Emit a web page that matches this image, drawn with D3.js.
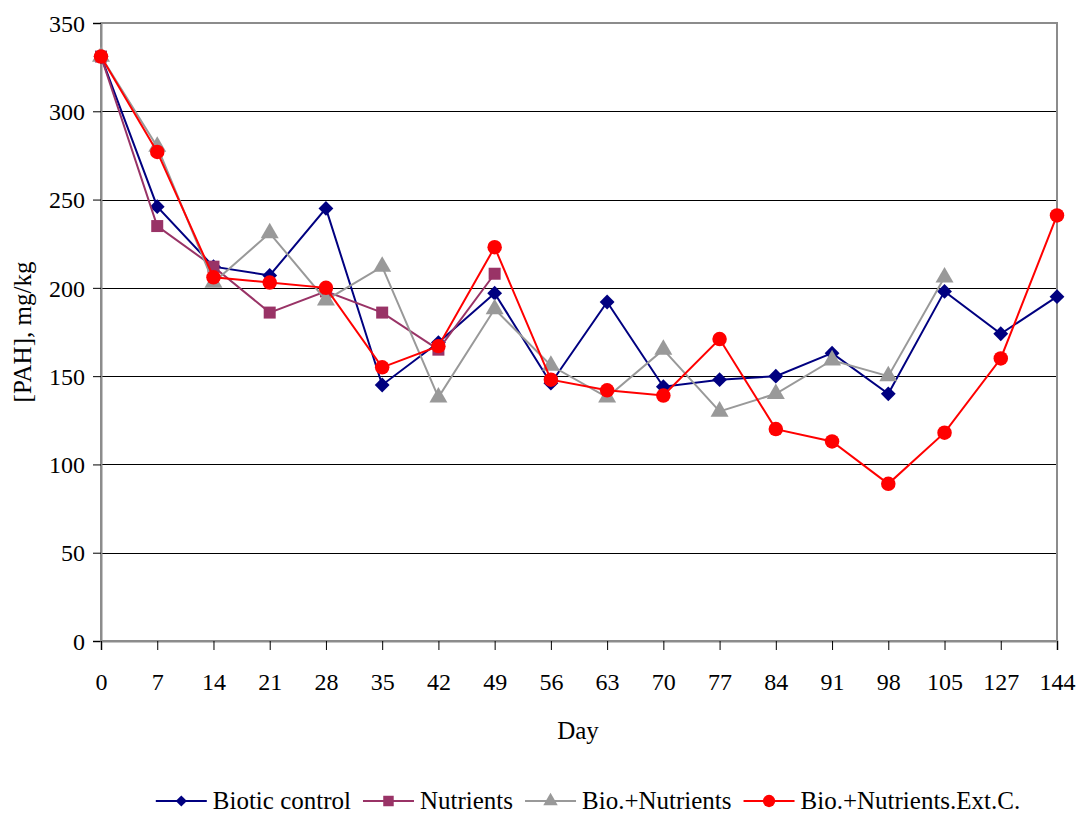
<!DOCTYPE html>
<html>
<head>
<meta charset="utf-8">
<script src="https://cdn.jsdelivr.net/npm/d3@7"></script>
<style>
  html, body { margin: 0; padding: 0; background: #fff; }
  svg text { font-family: "Liberation Serif", "Times New Roman", serif; fill: #000; }
</style>
</head>
<body>
<svg id="chart" width="1076" height="813"></svg>
<script>
// Sampling days (categorical axis)
const days = ["0", "7", "14", "21", "28", "35", "42", "49", "56", "63", "70", "77", "84", "91", "98", "105", "127", "144"];

// PAH concentration, mg/kg, per treatment
const bioticControl = [331, 246, 212, 207, 245, 145, 169, 197, 146, 192, 144, 148, 150, 163, 140, 198, 174, 195];
const nutrients     = [331, 235, 212, 186, 198, 186, 165, 208];
const bioNutrients  = [331, 280, 203, 231, 193, 212, 138, 188, 156, 138, 165, 130, 140, 159, 150, 206];
const bioNutExtC    = [331, 277, 206, 203, 200, 155, 167, 223, 148, 142, 139, 171, 120, 113, 89, 118, 160, 241];

const yTicks = [0, 50, 100, 150, 200, 250, 300, 350];

const seriesNames = ["Biotic control", "Nutrients", "Bio.+Nutrients", "Bio.+Nutrients.Ext.C."];
const seriesValues = [bioticControl, nutrients, bioNutrients, bioNutExtC];
const seriesColors = ["#000080", "#993366", "#999999", "#ff0000"];
const seriesSymbols = [d3.symbolDiamond2, d3.symbolSquare, d3.symbolTriangle, d3.symbolCircle];
const symbolSizes = [140, 144, 140, 165];
const legendSymbolSizes = [80, 110, 90, 120];

const svg = d3.select("#chart");
const plot = { left: 101, right: 1057, top: 23, bottom: 641 };

const x = d3.scalePoint().domain(days).range([plot.left, plot.right]);
const y = d3.scaleLinear().domain([0, 350]).range([plot.bottom, plot.top]);

// Horizontal gridlines
svg.append("g")
  .selectAll("line")
  .data(yTicks.filter(t => t > 0 && t < 350))
  .join("line")
  .attr("x1", plot.left).attr("x2", plot.right)
  .attr("y1", d => Math.round(y(d)) + 0.5).attr("y2", d => Math.round(y(d)) + 0.5)
  .attr("stroke", "#000").attr("stroke-width", 1.2);

// Plot frame
svg.append("rect")
  .attr("x", plot.left).attr("y", plot.top)
  .attr("width", plot.right - plot.left).attr("height", plot.bottom - plot.top)
  .attr("fill", "none").attr("stroke", "#8c8c8c").attr("stroke-width", 2);

// Y axis
const yAxis = svg.append("g")
  .attr("transform", `translate(${plot.left},0)`)
  .call(d3.axisLeft(y).tickValues(yTicks).tickSize(8).tickPadding(8).tickFormat(d3.format("d")));
yAxis.select(".domain").attr("stroke", "#8c8c8c").attr("stroke-width", 2);
yAxis.selectAll(".tick line").attr("stroke", "#000");
yAxis.selectAll("text").attr("font-size", 24).attr("dy", "0.34em");

// X axis
const xAxis = svg.append("g")
  .attr("transform", `translate(0,${plot.bottom})`)
  .call(d3.axisBottom(x).tickSize(9).tickPadding(23));
xAxis.select(".domain").attr("stroke", "#8c8c8c").attr("stroke-width", 2);
xAxis.selectAll(".tick line").attr("stroke", "#000");
xAxis.selectAll("text").attr("font-size", 24);

// Axis titles
svg.append("text")
  .attr("x", (plot.left + plot.right) / 2 - 1).attr("y", 739)
  .attr("text-anchor", "middle").attr("font-size", 25)
  .text("Day");

svg.append("text")
  .attr("transform", `translate(31,${(plot.top + plot.bottom) / 2}) rotate(-90)`)
  .attr("text-anchor", "middle").attr("font-size", 25)
  .text("[PAH], mg/kg");

// Series lines and markers
const line = d3.line()
  .x((d, i) => x(days[i]))
  .y(d => y(d));

seriesValues.forEach((vals, s) => {
  const g = svg.append("g");
  g.append("path")
    .datum(vals)
    .attr("d", line)
    .attr("fill", "none")
    .attr("stroke", seriesColors[s])
    .attr("stroke-width", 2);
  g.selectAll("path.marker")
    .data(vals)
    .join("path")
    .attr("class", "marker")
    .attr("transform", (d, i) => `translate(${x(days[i])},${y(d)})`)
    .attr("d", d3.symbol(seriesSymbols[s], symbolSizes[s]))
    .attr("fill", seriesColors[s]);
});

// Legend
const legend = svg.append("g");
const lineLen = 51, textGap = 6, itemGap = 12, legendY = 801;
const items = seriesNames.map((name, s) => {
  const g = legend.append("g");
  g.append("line")
    .attr("x1", 0).attr("x2", lineLen).attr("y1", 0).attr("y2", 0)
    .attr("stroke", seriesColors[s]).attr("stroke-width", 2);
  g.append("path")
    .attr("transform", `translate(${lineLen / 2},0)`)
    .attr("d", d3.symbol(seriesSymbols[s], legendSymbolSizes[s]))
    .attr("fill", seriesColors[s]);
  const t = g.append("text")
    .attr("x", lineLen + textGap).attr("y", 8)
    .attr("font-size", 25)
    .text(name);
  return { g, w: lineLen + textGap + t.node().getComputedTextLength() };
});
const totalW = d3.sum(items, d => d.w) + itemGap * (items.length - 1);
let cx = 588 - totalW / 2;
items.forEach(it => {
  it.g.attr("transform", `translate(${cx},${legendY})`);
  cx += it.w + itemGap;
});
</script>
</body>
</html>
